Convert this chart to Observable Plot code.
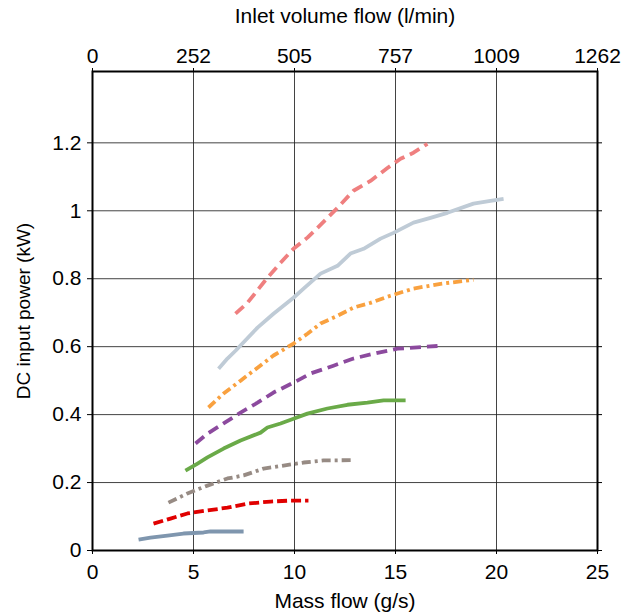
<!DOCTYPE html>
<html><head><meta charset="utf-8">
<script src="https://cdn.jsdelivr.net/npm/d3@7"></script>
<script src="https://cdn.jsdelivr.net/npm/@observablehq/plot@0.6"></script>
<style>
body{margin:0;background:#fff}
#chart svg{font-family:"Liberation Sans",Arial,sans-serif;background:#fff}
</style>
</head><body><div id="chart"></div>
<script>
// Axis ticks
const massTicks = [0, 5, 10, 15, 20, 25];
const volumeTickLabels = ["0", "252", "505", "757", "1009", "1262"];
const powerTicks = [0, 0.2, 0.4, 0.6, 0.8, 1, 1.2];

// Series (mass flow g/s, DC power kW), top to bottom
const pinkX  = [7.08, 7.67, 8.66, 9.31, 9.95, 10.64, 11.14, 11.63, 12.13, 12.92, 13.76, 14.60, 15.25, 15.89, 16.58];
const pinkY  = [0.697, 0.729, 0.803, 0.847, 0.888, 0.921, 0.950, 0.979, 1.009, 1.059, 1.088, 1.126, 1.153, 1.171, 1.197];

const silverX = [6.24, 6.68, 7.08, 8.17, 8.96, 9.95, 10.45, 11.29, 12.13, 12.77, 13.42, 14.26, 14.90, 15.89, 16.73, 17.57, 18.86, 19.70, 20.35];
const silverY = [0.535, 0.565, 0.588, 0.656, 0.697, 0.744, 0.771, 0.815, 0.838, 0.874, 0.888, 0.918, 0.935, 0.965, 0.979, 0.994, 1.021, 1.029, 1.035];

const orangeX = [5.74, 6.49, 7.33, 8.17, 8.96, 9.95, 10.64, 11.29, 12.13, 12.92, 13.76, 14.75, 15.89, 17.23, 18.86];
const orangeY = [0.421, 0.462, 0.500, 0.538, 0.574, 0.609, 0.638, 0.668, 0.691, 0.715, 0.729, 0.750, 0.771, 0.785, 0.797];

const purpleX = [5.10, 5.69, 6.49, 7.33, 8.17, 8.96, 9.95, 10.79, 11.93, 12.92, 14.11, 15.10, 16.09, 17.08];
const purpleY = [0.315, 0.344, 0.374, 0.406, 0.435, 0.465, 0.494, 0.521, 0.544, 0.565, 0.582, 0.594, 0.598, 0.602];

const greenX = [4.60, 5.20, 5.69, 6.49, 7.33, 8.32, 8.66, 9.31, 9.95, 10.64, 11.63, 12.62, 13.61, 14.41, 15.50];
const greenY = [0.235, 0.256, 0.274, 0.300, 0.324, 0.347, 0.362, 0.374, 0.388, 0.403, 0.418, 0.429, 0.435, 0.442, 0.442];

const taupeX = [3.76, 4.70, 5.69, 6.68, 7.48, 8.47, 9.46, 10.45, 11.44, 12.92];
const taupeY = [0.141, 0.168, 0.191, 0.212, 0.221, 0.241, 0.250, 0.259, 0.265, 0.266];

const redX = [3.02, 3.86, 4.70, 5.69, 6.68, 7.67, 8.81, 9.80, 10.69];
const redY = [0.079, 0.094, 0.109, 0.118, 0.126, 0.138, 0.144, 0.147, 0.147];

const slateX = [2.28, 2.87, 3.71, 4.50, 5.50, 5.84, 7.48];
const slateY = [0.032, 0.038, 0.044, 0.050, 0.053, 0.056, 0.056];

const seriesList = [
  {x: pinkX, y: pinkY, stroke: "#ef7f7f", dash: "11,6"},
  {x: silverX, y: silverY, stroke: "#bfcbd6", dash: null},
  {x: orangeX, y: orangeY, stroke: "#f9a13f", dash: "9,4,3,4"},
  {x: purpleX, y: purpleY, stroke: "#8c4a9e", dash: "11,6"},
  {x: greenX, y: greenY, stroke: "#6aaa48", dash: null},
  {x: taupeX, y: taupeY, stroke: "#978b84", dash: "9,4,3,4"},
  {x: redX, y: redY, stroke: "#e00000", dash: "10,4"},
  {x: slateX, y: slateY, stroke: "#7f96ae", dash: null}
];

const lineMarks = seriesList.map(s => {
  const rows = s.x.map((x, i) => ({x, y: s.y[i]}));
  return Plot.line(rows, {x: "x", y: "y", stroke: s.stroke, strokeWidth: 3.8,
    strokeLinecap: "butt", strokeLinejoin: "round",
    strokeDasharray: s.dash ?? undefined, curve: "linear"});
});

const fs = 21;
const chart = Plot.plot({
  width: 633,
  height: 616,
  marginLeft: 92,
  marginRight: 36,
  marginTop: 71,
  marginBottom: 66,
  style: {fontSize: fs + "px", fontFamily: "Liberation Sans, Arial, sans-serif", color: "#000", background: "#fff"},
  x: {domain: [0, 25]},
  y: {domain: [0, 1.41]},
  marks: [
    Plot.gridX(massTicks, {stroke: "#222", strokeOpacity: 0.85, strokeWidth: 1}),
    Plot.gridY(powerTicks, {stroke: "#222", strokeOpacity: 0.85, strokeWidth: 1}),
    ...lineMarks,
    Plot.frame({stroke: "#000", strokeWidth: 2}),
    Plot.axisX(massTicks, {anchor: "bottom", tickSize: 4, tickPadding: 10, fontSize: fs,
      label: "Mass flow (g/s)", labelAnchor: "center", labelArrow: "none", labelOffset: 57,
      tickFormat: d => String(d)}),
    Plot.axisX(massTicks, {anchor: "top", tickSize: 4, tickPadding: 5, fontSize: fs,
      label: "Inlet volume flow (l/min)", labelAnchor: "center", labelArrow: "none", labelOffset: 63,
      tickFormat: (d, i) => volumeTickLabels[i]}),
    Plot.axisY(powerTicks, {anchor: "left", tickSize: 5, tickPadding: 6, fontSize: fs,
      label: null, tickFormat: d => String(d)}),
    Plot.axisY([], {anchor: "left", fontSize: 19, tickSize: 0,
      label: "DC input power (kW)", labelAnchor: "center", labelArrow: "none", labelOffset: 76}),
    Plot.axisY(powerTicks, {anchor: "right", tickSize: 4, tickFormat: () => "", label: null})
  ]
});
document.getElementById("chart").appendChild(chart);
</script>
</body></html>
